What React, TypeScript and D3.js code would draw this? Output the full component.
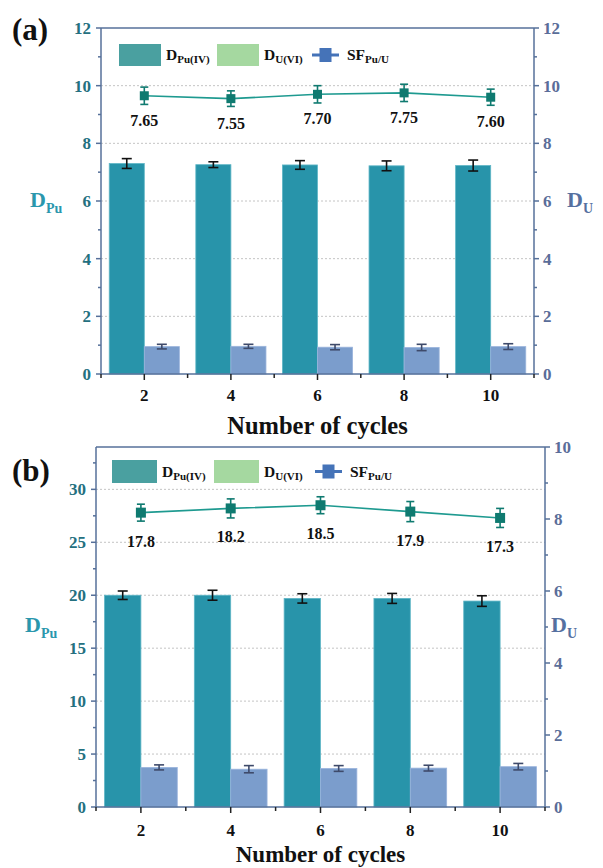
import React from 'react';
import * as d3 from 'd3';

const cycles = ['2', '4', '6', '8', '10'];

// panel (a)
const dPuA = [7.3, 7.26, 7.25, 7.22, 7.23];
const dPuErrA = [0.17, 0.1, 0.15, 0.17, 0.19];
const dUA = [0.95, 0.96, 0.93, 0.92, 0.95];
const dUErrA = [0.08, 0.07, 0.09, 0.11, 0.1];
const sfA = [7.65, 7.55, 7.7, 7.75, 7.6];
const sfErrA = [0.3, 0.27, 0.3, 0.3, 0.28];
const sfLabelsA = ['7.65', '7.55', '7.70', '7.75', '7.60'];
const leftTicksA = [0, 2, 4, 6, 8, 10, 12];
const leftMinorA = [1, 3, 5, 7, 9, 11];
const rightTicksA = [0, 2, 4, 6, 8, 10, 12];
const rightMinorA = [1, 3, 5, 7, 9, 11];
const gridA = [2, 4, 6, 8, 10];

// panel (b)
const dPuB = [20.0, 20.0, 19.7, 19.7, 19.45];
const dPuErrB = [0.4, 0.47, 0.44, 0.47, 0.5];
const dUB = [1.1, 1.05, 1.07, 1.08, 1.12];
const dUErrB = [0.07, 0.1, 0.08, 0.08, 0.09];
const sfB = [17.8, 18.2, 18.5, 17.9, 17.3];
const sfErrB = [0.8, 0.9, 0.8, 0.95, 0.9];
const sfLabelsB = ['17.8', '18.2', '18.5', '17.9', '17.3'];
const leftTicksB = [0, 5, 10, 15, 20, 25, 30];
const leftMinorB = [2.5, 7.5, 12.5, 17.5, 22.5, 27.5, 32.5];
const rightTicksB = [0, 2, 4, 6, 8, 10];
const rightMinorB = [1, 3, 5, 7, 9];
const gridB = [5, 10, 15, 20, 25, 30];

const FONT = '"Liberation Serif", "Times New Roman", serif';
const AXIS = '#56709a';
const LEFT_TXT = '#24707f';
const RIGHT_TXT = '#5a6d99';
const DARK_BAR = '#2894aa';
const LIGHT_BAR = '#7b9dcc';
const SF_COLOR = '#0f7a70';
const SF_LINE = '#1e9a90';

const Panel = (p: any) => {
  const { L } = p;
  const x = d3.scaleBand().domain(cycles).range([L.x0, L.x1]).padding(0);
  const step = x.step();
  const bw = step * 0.405;
  const cx = (c: string) => (x(c) as number) + step / 2;
  const yL = d3.scaleLinear().domain([0, L.leftMax]).range([L.bottom, L.top]);
  const yR = d3.scaleLinear().domain([0, L.rightMax]).range([L.bottom, L.top]);
  const yS = d3.scaleLinear().domain(L.sfDomain).range([L.bottom, L.top]);
  const line = d3
    .line<number>()
    .x((_, i) => cx(cycles[i]))
    .y((d) => yS(d));

  const errBar = (xc: number, y1: number, y2: number, color: string, cap: number, key: string) => (
    <g key={key} stroke={color} strokeWidth={1.6}>
      <line x1={xc} x2={xc} y1={y1} y2={y2} />
      <line x1={xc - cap / 2} x2={xc + cap / 2} y1={y1} y2={y1} />
      <line x1={xc - cap / 2} x2={xc + cap / 2} y1={y2} y2={y2} />
    </g>
  );

  return (
    <g fontFamily={FONT} fontWeight="bold">
      {/* grid */}
      {p.grid.map((v: number) => (
        <line key={'g' + v} x1={L.x0} x2={L.x1} y1={yL(v)} y2={yL(v)} stroke="#c4c4c4" strokeWidth={1} strokeDasharray="2,2" />
      ))}

      {/* bars */}
      {cycles.map((c, i) => (
        <g key={'b' + c}>
          <rect x={cx(c) - bw} y={yL(p.dPu[i])} width={bw} height={L.bottom - yL(p.dPu[i])} fill={DARK_BAR} stroke="#5fb6c6" strokeWidth={0.8} />
          <rect x={cx(c)} y={yR(p.dU[i])} width={bw} height={L.bottom - yR(p.dU[i])} fill={LIGHT_BAR} stroke="#9ab4dc" strokeWidth={0.8} />
          {errBar(cx(c) - bw / 2, yL(p.dPu[i] + p.dPuErr[i]), yL(p.dPu[i] - p.dPuErr[i]), '#111', 10, 'e1' + c)}
          {errBar(cx(c) + bw / 2, yR(p.dU[i] + p.dUErr[i]), yR(p.dU[i] - p.dUErr[i]), '#3e4a6a', 10, 'e2' + c)}
        </g>
      ))}

      {/* SF line */}
      <path d={line(p.sf) as string} fill="none" stroke={SF_LINE} strokeWidth={1.6} />
      {cycles.map((c, i) => (
        <g key={'s' + c}>
          {errBar(cx(c), yS(p.sf[i] + p.sfErr[i]), yS(p.sf[i] - p.sfErr[i]), SF_COLOR, 8, 'se' + c)}
          <rect x={cx(c) - L.mk / 2} y={yS(p.sf[i]) - L.mk / 2} width={L.mk} height={L.mk} fill={SF_COLOR} />
          <text x={cx(c)} y={yS(p.sf[i]) + L.lblOff} textAnchor="middle" fontSize={16} fill="#111">
            {p.sfLabels[i]}
          </text>
        </g>
      ))}

      {/* frame */}
      <line x1={L.x0} x2={L.x1} y1={L.top} y2={L.top} stroke={AXIS} strokeWidth={1.5} />
      <line x1={L.x0} x2={L.x1} y1={L.bottom} y2={L.bottom} stroke={AXIS} strokeWidth={1.5} />
      <line x1={L.x0} x2={L.x0} y1={L.top} y2={L.bottom} stroke={AXIS} strokeWidth={1.5} />
      <line x1={L.x1} x2={L.x1} y1={L.top} y2={L.bottom} stroke={AXIS} strokeWidth={1.5} />

      {/* left axis */}
      {p.leftTicks.map((v: number) => (
        <g key={'l' + v}>
          <line x1={L.x0 - 5} x2={L.x0} y1={yL(v)} y2={yL(v)} stroke={AXIS} strokeWidth={1.5} />
          <text x={L.x0 - 10} y={yL(v) + 6} textAnchor="end" fontSize={17} fill={LEFT_TXT}>{v}</text>
        </g>
      ))}
      {p.leftMinor.map((v: number) => (
        <line key={'lm' + v} x1={L.x0 - 3} x2={L.x0} y1={yL(v)} y2={yL(v)} stroke={AXIS} strokeWidth={1.5} />
      ))}

      {/* right axis */}
      {p.rightTicks.map((v: number) => (
        <g key={'r' + v}>
          <line x1={L.x1} x2={L.x1 + 5} y1={yR(v)} y2={yR(v)} stroke={AXIS} strokeWidth={1.5} />
          <text x={L.x1 + 9} y={yR(v) + 6} textAnchor="start" fontSize={17} fill={RIGHT_TXT}>{v}</text>
        </g>
      ))}
      {p.rightMinor.map((v: number) => (
        <line key={'rm' + v} x1={L.x1} x2={L.x1 + 3} y1={yR(v)} y2={yR(v)} stroke={AXIS} strokeWidth={1.5} />
      ))}

      {/* x axis */}
      {cycles.map((c) => (
        <g key={'x' + c}>
          <line x1={cx(c)} x2={cx(c)} y1={L.bottom} y2={L.bottom + 6} stroke="#222" strokeWidth={1.5} />
          <text x={cx(c)} y={L.xTickY} textAnchor="middle" fontSize={17} fill="#111">{c}</text>
        </g>
      ))}
      {d3.range(cycles.length + 1).map((i) => (
        <line key={'xm' + i} x1={L.x0 + i * step} x2={L.x0 + i * step} y1={L.bottom} y2={L.bottom + 4} stroke="#222" strokeWidth={1.5} />
      ))}
      <text x={(L.x0 + L.x1) / 2} y={L.titleY} textAnchor="middle" fontSize={L.titleSize} fill="#111">Number of cycles</text>

      {/* axis titles */}
      <text x={L.dpuX} y={L.dY} fill="#2a97ad">
        <tspan fontSize={22}>D</tspan>
        <tspan fontSize={14} dy={6}>Pu</tspan>
      </text>
      <text x={L.duX} y={L.dY} fill="#5570a0">
        <tspan fontSize={22}>D</tspan>
        <tspan fontSize={14} dy={6}>U</tspan>
      </text>

      {/* panel tag */}
      <text x={12} y={L.tagY} fontSize={31} fill="#111">{p.tag}</text>

      {/* legend */}
      <rect x={L.lgX[0]} y={L.lgY} width={L.sw} height={L.sh} fill="#4aa0a0" />
      <text x={L.lgX[0] + L.sw + 5} y={L.lgY + L.sh / 2 + 5} fill="#111">
        <tspan fontSize={15.5}>D</tspan>
        <tspan fontSize={11} dy={3}>Pu(IV)</tspan>
      </text>
      <rect x={L.lgX[1]} y={L.lgY} width={L.sw} height={L.sh} fill="#a5d8a0" />
      <text x={L.lgX[1] + L.sw + 5} y={L.lgY + L.sh / 2 + 5} fill="#111">
        <tspan fontSize={15.5}>D</tspan>
        <tspan fontSize={11} dy={3}>U(VI)</tspan>
      </text>
      <line x1={L.lgX[2]} x2={L.lgX[2] + 27} y1={L.lgY + L.sh / 2} y2={L.lgY + L.sh / 2} stroke="#4573b8" strokeWidth={3} />
      <rect x={L.lgX[2] + 13.5 - 6} y={L.lgY + L.sh / 2 - 7} width={12} height={14} fill="#4573b8" />
      <text x={L.lgX[2] + 35} y={L.lgY + L.sh / 2 + 5} fill="#111">
        <tspan fontSize={15.5}>SF</tspan>
        <tspan fontSize={11} dy={3}>Pu/U</tspan>
      </text>
    </g>
  );
};

const layoutA = {
  x0: 101, x1: 534, top: 28, bottom: 374, leftMax: 12, rightMax: 12, sfDomain: [-2, 10],
  mk: 9, lblOff: 30, xTickY: 401, titleY: 434, titleSize: 24.5, dpuX: 30, duX: 567, dY: 207, tagY: 40,
  lgX: [119, 217, 312], lgY: 44, sw: 42, sh: 22,
};

const layoutB = {
  x0: 96, x1: 545, top: 447, bottom: 807, leftMax: 34, rightMax: 10, sfDomain: [-10, 24],
  mk: 10, lblOff: 34, xTickY: 836, titleY: 862, titleSize: 23, dpuX: 25, duX: 551, dY: 632, tagY: 481,
  lgX: [112, 214, 315], lgY: 460, sw: 45, sh: 23,
};

export default function App() {
  return (
    <svg width={603} height={868} style={{ position: 'absolute', left: 0, top: 0, background: '#fff' }}>
      <Panel
        tag="(a)" L={layoutA}
        dPu={dPuA} dPuErr={dPuErrA} dU={dUA} dUErr={dUErrA}
        sf={sfA} sfErr={sfErrA} sfLabels={sfLabelsA}
        leftTicks={leftTicksA} leftMinor={leftMinorA}
        rightTicks={rightTicksA} rightMinor={rightMinorA} grid={gridA}
      />
      <Panel
        tag="(b)" L={layoutB}
        dPu={dPuB} dPuErr={dPuErrB} dU={dUB} dUErr={dUErrB}
        sf={sfB} sfErr={sfErrB} sfLabels={sfLabelsB}
        leftTicks={leftTicksB} leftMinor={leftMinorB}
        rightTicks={rightTicksB} rightMinor={rightMinorB} grid={gridB}
      />
    </svg>
  );
}
